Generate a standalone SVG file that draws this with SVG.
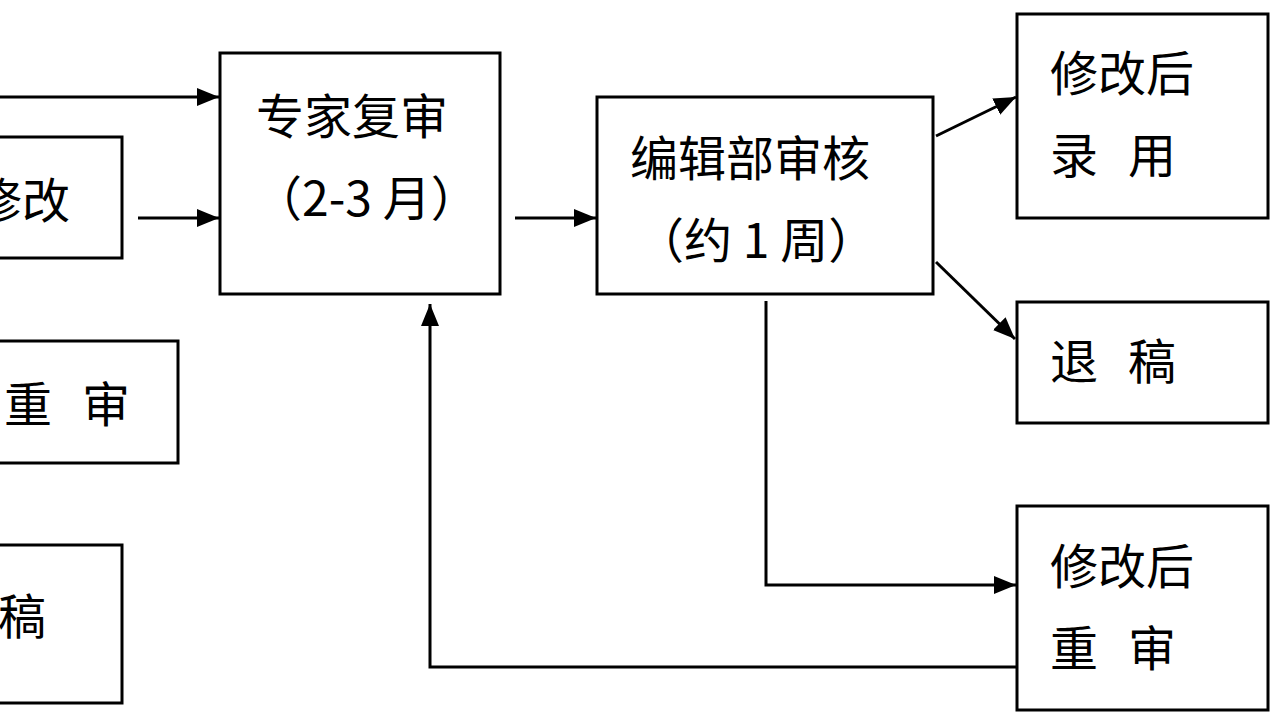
<svg xmlns="http://www.w3.org/2000/svg" width="1280" height="720" viewBox="0 0 1280 720">
<defs>
<style>
.box{fill:#fff;stroke:#000;stroke-width:3}
.t{font-family:"Noto Sans CJK SC","Liberation Sans",sans-serif;font-size:48px;fill:#000}
.c{fill:none;stroke:#000;stroke-width:3}
</style>
<marker id="ah" markerUnits="userSpaceOnUse" markerWidth="24" markerHeight="20" refX="22" refY="9" orient="auto">
<path d="M0,0 L22,9 L0,18 z" fill="#000"/>
</marker>
</defs>
<rect width="1280" height="720" fill="#fff"/>
<g id="connectors">
<line class="c" x1="0" y1="97" x2="219" y2="97" marker-end="url(#ah)"/>
<line class="c" x1="138" y1="218" x2="219" y2="218" marker-end="url(#ah)"/>
<line class="c" x1="515" y1="218" x2="596" y2="218" marker-end="url(#ah)"/>
<line class="c" x1="936" y1="136" x2="1016" y2="97" marker-end="url(#ah)"/>
<line class="c" x1="936" y1="262" x2="1015" y2="339" marker-end="url(#ah)"/>
<polyline class="c" points="766,301 766,585 1016,585" marker-end="url(#ah)"/>
<polyline class="c" points="1017,667 430,667 430,304" marker-end="url(#ah)"/>
</g>
<g id="node-revise-left">
<rect class="box" x="-20" y="137" width="142" height="121"/>
<text class="t" x="-26" y="218">修改</text>
</g>
<g id="node-rereview-left">
<rect class="box" x="-20" y="341" width="198" height="122"/>
<text class="t"><tspan x="4" y="422">重</tspan><tspan x="82" y="422">审</tspan></text>
</g>
<g id="node-reject-left">
<rect class="box" x="-20" y="545" width="142" height="158"/>
<text class="t" x="-2" y="634">稿</text>
</g>
<g id="node-expert">
<rect class="box" x="220" y="53" width="280" height="241"/>
<text class="t" x="256" y="134">专家复审</text>
<text class="t" x="254" y="216">（2-3 月）</text>
</g>
<g id="node-editorial">
<rect class="box" x="597" y="97" width="336" height="197"/>
<text class="t" x="630" y="176">编辑部审核</text>
<text class="t" x="636" y="258">（约 1 周）</text>
</g>
<g id="node-accept">
<rect class="box" x="1017" y="14" width="251" height="204"/>
<text class="t" x="1050" y="91">修改后</text>
<text class="t"><tspan x="1050" y="173">录</tspan><tspan x="1128" y="173">用</tspan></text>
</g>
<g id="node-reject">
<rect class="box" x="1017" y="302" width="251" height="121"/>
<text class="t"><tspan x="1050" y="379">退</tspan><tspan x="1128" y="379">稿</tspan></text>
</g>
<g id="node-revise-rereview">
<rect class="box" x="1017" y="506" width="251" height="204"/>
<text class="t" x="1050" y="584">修改后</text>
<text class="t"><tspan x="1050" y="666">重</tspan><tspan x="1128" y="666">审</tspan></text>
</g>
</svg>
